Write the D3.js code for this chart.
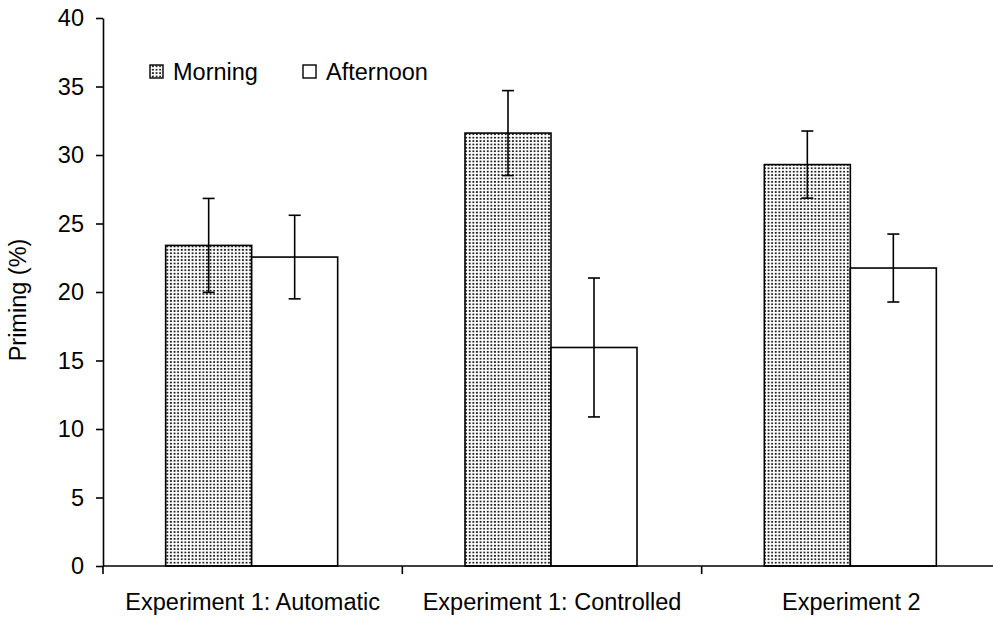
<!DOCTYPE html>
<html><head><meta charset="utf-8">
<script src="https://cdn.jsdelivr.net/npm/d3@7"></script>
<style>body{margin:0;background:#fff}svg{display:block}text{font-family:"Liberation Sans",Arial,sans-serif;fill:#000}</style>
</head><body><svg id="c" width="993" height="619"></svg>
<script>
const categories = ["Experiment 1: Automatic", "Experiment 1: Controlled", "Experiment 2"];
const series = ["Morning", "Afternoon"];
const morning = [23.4, 31.6, 29.3];
const afternoon = [22.55, 15.95, 21.75];
const morningErr = [3.43, 3.1, 2.45];
const afternoonErr = [3.05, 5.07, 2.48];
const yTicks = [0, 5, 10, 15, 20, 25, 30, 35, 40];

const FS = 23.5;
const svg = d3.select("#c");
const mLeft = 103, mTop = 18, mBottom = 566, mRight = 1001;
const defs = svg.append("defs");
const pat = defs.append("pattern").attr("id","dots").attr("patternUnits","userSpaceOnUse")
  .attr("width",3.6).attr("height",3.4);
pat.append("rect").attr("width",3.6).attr("height",3.4).attr("fill","#fff");
pat.append("rect").attr("x",0.8).attr("y",0.8).attr("width",1.8).attr("height",1.7).attr("fill","#111");

const x = d3.scaleBand().domain(categories).range([mLeft, mRight]).paddingInner(0).paddingOuter(0);
const y = d3.scaleLinear().domain([0, 40]).range([mBottom, mTop]);
const barW = 86;

const data = categories.map((c,i)=>({c, vals:[
  {s:"Morning", v:morning[i], e:morningErr[i]},
  {s:"Afternoon", v:afternoon[i], e:afternoonErr[i]}]}));

const g = svg.append("g");
data.forEach(d=>{
  const cx = x(d.c) + x.bandwidth()/2 - 1;
  d.vals.forEach((b,j)=>{
    const x0 = j===0 ? cx - barW : cx;
    g.append("rect").attr("x",x0).attr("y",y(b.v)).attr("width",barW).attr("height",y(0)-y(b.v))
      .attr("fill", j===0 ? "url(#dots)" : "#fff").attr("stroke","#000").attr("stroke-width",1.6);
  });
  d.vals.forEach((b,j)=>{
    const xc = (j===0 ? cx - barW : cx) + barW/2;
    const y1 = y(b.v + b.e), y2 = y(b.v - b.e);
    g.append("line").attr("x1",xc).attr("x2",xc).attr("y1",y1).attr("y2",y2).attr("stroke","#000").attr("stroke-width",1.6);
    [y1,y2].forEach(yy=>g.append("line").attr("x1",xc-6).attr("x2",xc+6).attr("y1",yy).attr("y2",yy).attr("stroke","#000").attr("stroke-width",1.6));
  });
});

// y axis
const ya = svg.append("g").attr("transform",`translate(${mLeft},0)`)
  .call(d3.axisLeft(y).tickValues(yTicks).tickSize(7).tickPadding(12).tickSizeOuter(0));
ya.select(".domain").attr("stroke-width",1.6);
ya.selectAll(".tick line").attr("stroke-width",1.6);
ya.selectAll("text").attr("font-size",FS).style("font-family","'Liberation Sans',Arial,sans-serif");

// x axis
const xa = svg.append("g").attr("transform",`translate(0,${mBottom})`);
xa.append("line").attr("x1",mLeft).attr("x2",mRight).attr("y1",0).attr("y2",0).attr("stroke","#000").attr("stroke-width",1.6);
const bounds = categories.map(c=>x(c)).concat([x(categories[categories.length-1])+x.bandwidth()]);
bounds.forEach(b=>xa.append("line").attr("x1",b).attr("x2",b).attr("y1",0).attr("y2",8).attr("stroke","#000").attr("stroke-width",1.6));
categories.forEach(c=>xa.append("text").attr("x",x(c)+x.bandwidth()/2).attr("y",44)
  .attr("text-anchor","middle").attr("font-size",FS).text(c));

// y label
svg.append("text").attr("transform","translate(26,300) rotate(-90)").attr("text-anchor","middle")
  .attr("font-size",FS).text("Priming (%)");

// legend
const legX = [150, 303];
series.forEach((s,i)=>{
  svg.append("rect").attr("x",legX[i]).attr("y",65).attr("width",13).attr("height",13)
    .attr("fill", i===0 ? "url(#dots)" : "#fff").attr("stroke","#000").attr("stroke-width",1.4);
  svg.append("text").attr("x",legX[i]+23).attr("y",80).attr("font-size",FS).text(s);
});
</script></body></html>
